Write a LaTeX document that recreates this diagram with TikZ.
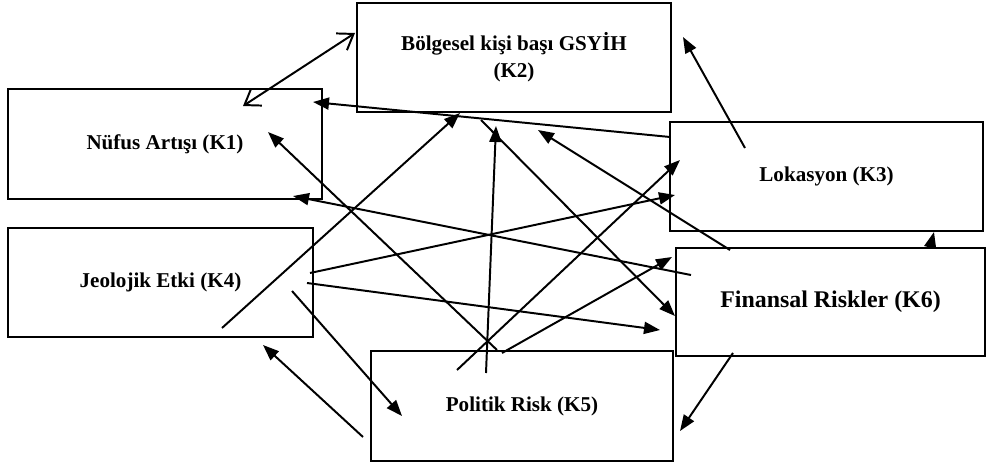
\documentclass[tikz,border=0pt]{standalone}
\usepackage{fontspec}
\setmainfont{Liberation Serif}
\usetikzlibrary{arrows.meta}

\begin{document}
\begin{tikzpicture}[
  kbox/.style={draw,line width=1.6pt,align=center,inner sep=0pt,font=\fontsize{15}{19}\selectfont\bfseries},
  link/.style={line width=1.4pt,-{Triangle[length=0.4cm,width=0.3cm]}},
  twoway/.style={line width=1.4pt,{Straight Barb[length=0.36cm,width=0.5cm]}-{Straight Barb[length=0.36cm,width=0.5cm]}}]
\useasboundingbox (0,0) rectangle (24.7,11.65);

% criteria boxes
\node[kbox,minimum width=7.85cm,minimum height=2.75cm] (k1) at (4.125,8.05) {Nüfus Artışı (K1)};
\node[kbox,minimum width=7.85cm,minimum height=2.725cm] (k2) at (12.85,10.2125) {Bölgesel kişi başı GSYİH\\(K2)};
\node[kbox,minimum width=7.825cm,minimum height=2.725cm] (k3) at (20.6625,7.2375) {Lokasyon (K3)};
\node[kbox,minimum width=7.625cm,minimum height=2.725cm] (k4) at (4.0125,4.5875) {Jeolojik Etki (K4)};
\node[kbox,minimum width=7.55cm,minimum height=2.75cm] (k5) at (13.05,1.5) {Politik Risk (K5)};
\node[kbox,minimum width=7.725cm,minimum height=2.7cm,font=\fontsize{17}{20}\selectfont\bfseries] (k6) at (20.7625,4.1) {Finansal Riskler (K6)};

% end points of the links
\coordinate (k1k2s) at (6.075,9.0);   \coordinate (k1k2t) at (8.875,10.825);
\coordinate (k3k1s) at (16.75,8.225); \coordinate (k3k1t) at (7.825,9.1);
\coordinate (k6k1s) at (17.275,4.775);\coordinate (k6k1t) at (7.325,6.75);
\coordinate (k5k1s) at (12.425,2.9);  \coordinate (k5k1t) at (6.7,8.35);
\coordinate (k4k2s) at (5.55,3.45);   \coordinate (k4k2t) at (11.5,8.825);
\coordinate (k5k2s) at (12.15,2.325); \coordinate (k5k2t) at (12.4,8.5);
\coordinate (k2k6s) at (12.025,8.65); \coordinate (k2k6t) at (16.875,3.75);
\coordinate (k6k2s) at (18.25,5.4);   \coordinate (k6k2t) at (13.45,8.4);
\coordinate (k4k3s) at (7.75,4.825);  \coordinate (k4k3t) at (16.875,6.775);
\coordinate (k5k3s) at (11.425,2.4);  \coordinate (k5k3t) at (17.0,7.65);
\coordinate (k5k6s) at (12.55,2.825); \coordinate (k5k6t) at (16.8,5.225);
\coordinate (k4k6s) at (7.675,4.575); \coordinate (k4k6t) at (16.5,3.4);
\coordinate (k4k5s) at (7.3,4.375);   \coordinate (k4k5t) at (10.05,1.25);
\coordinate (k5k4s) at (9.075,0.725); \coordinate (k5k4t) at (6.575,3.025);
\coordinate (k3k2s) at (18.625,7.95); \coordinate (k3k2t) at (17.075,10.725);
\coordinate (k6k3s) at (23.25,5.45);  \coordinate (k6k3t) at (23.35,5.85);
\coordinate (k6k5s) at (18.325,2.825);\coordinate (k6k5t) at (17.0,0.875);

% links
\draw[twoway] (k1k2s) -- (k1k2t);
\draw[link] (k3k1s) -- (k3k1t);
\draw[link] (k6k1s) -- (k6k1t);
\draw[link] (k5k1s) -- (k5k1t);
\draw[link] (k4k2s) -- (k4k2t);
\draw[link] (k5k2s) -- (k5k2t);
\draw[link] (k2k6s) -- (k2k6t);
\draw[link] (k6k2s) -- (k6k2t);
\draw[link] (k4k3s) -- (k4k3t);
\draw[link] (k5k3s) -- (k5k3t);
\draw[link] (k5k6s) -- (k5k6t);
\draw[link] (k4k6s) -- (k4k6t);
\draw[link] (k4k5s) -- (k4k5t);
\draw[link] (k5k4s) -- (k5k4t);
\draw[link] (k3k2s) -- (k3k2t);
\draw[link] (k6k3s) -- (k6k3t);
\draw[link] (k6k5s) -- (k6k5t);

\end{tikzpicture}
\end{document}
